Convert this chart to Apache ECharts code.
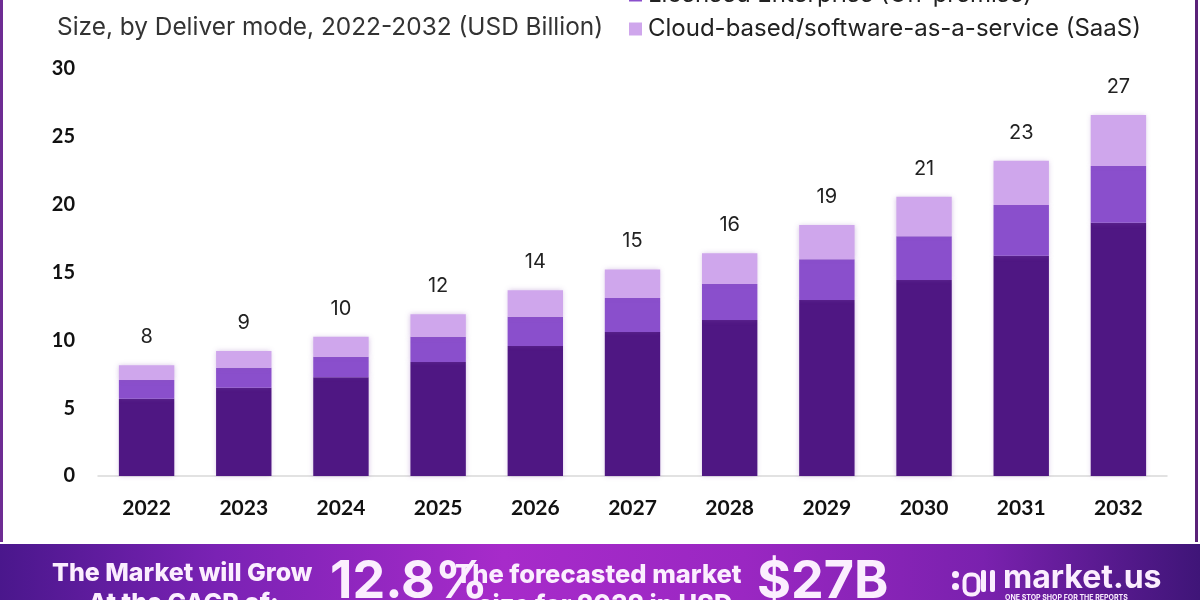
<!DOCTYPE html>
<html>
<head>
<meta charset="utf-8">
<script src="https://cdn.jsdelivr.net/npm/echarts@6/dist/echarts.min.js"></script>
<style>
html,body{margin:0;padding:0;background:#fff;}
#chart{width:1200px;height:600px;}
</style>
</head>
<body>
<div id="chart"></div>
<script>
const years = ['2022','2023','2024','2025','2026','2027','2028','2029','2030','2031','2032'];
const otherModes = [5.70, 6.51, 7.27, 8.40, 9.58, 10.61, 11.50, 12.97, 14.44, 16.23, 18.67];
const licensedEnterprise = [1.38, 1.47, 1.52, 1.86, 2.16, 2.51, 2.65, 3.00, 3.24, 3.74, 4.18];
const cloudSaaS = [1.08, 1.23, 1.47, 1.67, 1.95, 2.11, 2.26, 2.53, 2.90, 3.26, 3.76];
const totalLabels = ['8','9','10','12','14','15','16','19','21','23','27'];
const yTicks = [0, 5, 10, 15, 20, 25, 30];

const seriesNames = ['Perpetual License', 'Licensed Enterprise (On-premise)', 'Cloud-based/software-as-a-service (SaaS)'];
const colors = ['#4f1783', '#8a4fcc', '#cfa6ec'];

const chart = echarts.init(document.getElementById('chart'), null, {renderer: 'canvas'});

const shadow = {shadowBlur: 5, shadowColor: 'rgba(140,90,180,0.35)'};

const option = {
  animation: false,
  backgroundColor: '#ffffff',
  grid: {left: 98, right: 33, top: 69, bottom: 124, containLabel: false},
  legend: {
    orient: 'vertical',
    left: 624,
    top: -22,
    itemGap: 10,
    itemWidth: 13,
    itemHeight: 13,
    icon: 'rect',
    data: [seriesNames[1], seriesNames[2]],
    textStyle: {fontFamily: 'Inter', fontSize: 24, color: '#222', padding: [0, 0, 0, 1]},
    selectedMode: false
  },
  xAxis: {
    type: 'category',
    data: years,
    axisLine: {show: true, lineStyle: {color: '#d9d9d9', width: 1.5}},
    axisTick: {show: false},
    axisLabel: {fontFamily: 'Lato', fontWeight: 'bold', fontSize: 21, color: '#111', margin: 22}
  },
  yAxis: {
    type: 'value',
    min: yTicks[0],
    max: yTicks[yTicks.length - 1],
    interval: 5,
    axisLine: {show: false},
    axisTick: {show: false},
    splitLine: {show: false},
    axisLabel: {fontFamily: 'Lato', fontWeight: 'bold', fontSize: 20, color: '#111', margin: 23}
  },
  series: [
    {
      name: seriesNames[0], type: 'bar', stack: 'total', data: otherModes,
      barWidth: '57%',
      itemStyle: Object.assign({color: colors[0]}, shadow)
    },
    {
      name: seriesNames[1], type: 'bar', stack: 'total', data: licensedEnterprise,
      itemStyle: Object.assign({color: colors[1]}, shadow)
    },
    {
      name: seriesNames[2], type: 'bar', stack: 'total', data: cloudSaaS,
      itemStyle: Object.assign({color: colors[2]}, shadow),
      label: {
        show: true, position: 'top', distance: 18,
        formatter: p => totalLabels[p.dataIndex],
        fontFamily: 'Inter', fontSize: 20, color: '#222'
      }
    }
  ],
  graphic: [
    {type: 'rect', left: 0, top: 0, shape: {width: 3, height: 542}, style: {fill: '#6e2c93'}},
    {type: 'rect', left: 1195, top: 0, shape: {width: 3, height: 542}, style: {fill: '#5a2278'}},
    {
      type: 'text', left: 57, top: 16,
      style: {text: 'Size, by Deliver mode, 2022-2032 (USD Billion)', fontFamily: 'Inter', fontSize: 24.4, fill: '#333'}
    },
    {
      type: 'rect', left: 0, top: 544, z: 10,
      shape: {width: 1200, height: 56},
      style: {
        fill: new echarts.graphic.LinearGradient(0, 0, 1, 0, [
          {offset: 0, color: '#4a178c'},
          {offset: 0.18, color: '#7a22b4'},
          {offset: 0.42, color: '#a72bca'},
          {offset: 0.62, color: '#9a27c2'},
          {offset: 0.82, color: '#7a21ae'},
          {offset: 1, color: '#3f1578'}
        ])
      }
    },
    {type: 'text', left: 52, top: 561, z: 11,
      style: {text: 'The Market will Grow', fontFamily: 'Inter', fontWeight: 800, fontSize: 25, fill: '#fbeefe'}},
    {type: 'text', left: 88, top: 591, z: 11,
      style: {text: 'At the CAGR of:', fontFamily: 'Inter', fontWeight: 800, fontSize: 25, fill: '#fbeefe'}},
    {type: 'text', left: 330, top: 556, z: 11,
      style: {text: '12.8%', fontFamily: 'Inter', fontWeight: 'bold', fontSize: 52, fill: '#fbeefe'}},
    {type: 'text', left: 455, top: 562, z: 12,
      style: {text: 'The forecasted market', fontFamily: 'Inter', fontWeight: 800, fontSize: 25.5, fill: '#fbeefe'}},
    {type: 'text', left: 478, top: 592, z: 12,
      style: {text: 'size for 2032 in USD', fontFamily: 'Inter', fontWeight: 800, fontSize: 25.5, fill: '#fbeefe'}},
    {type: 'text', left: 757, top: 556, z: 11,
      style: {text: '$27B', fontFamily: 'Inter', fontWeight: 'bold', fontSize: 52, fill: '#fbeefe'}},
    {type: 'circle', left: 952, top: 583, z: 11, shape: {r: 3.5}, style: {fill: '#fbeefe'}},
    {type: 'circle', left: 952, top: 571, z: 11, shape: {r: 3.5}, style: {fill: '#fbeefe'}},
    {type: 'rect', left: 962, top: 572, z: 11, shape: {width: 14, height: 20, r: 6}, style: {fill: 'none', stroke: '#fbeefe', lineWidth: 4}},
    {type: 'rect', left: 981, top: 570, z: 11, shape: {width: 5, height: 22, r: 2}, style: {fill: '#fbeefe'}},
    {type: 'rect', left: 990, top: 570, z: 11, shape: {width: 5, height: 22, r: 2}, style: {fill: '#fbeefe'}},
    {type: 'text', left: 1003, top: 562, z: 11,
      style: {text: 'market.us', fontFamily: 'Inter', fontWeight: 'bold', fontSize: 32, fill: '#fbeefe'}},
    {type: 'text', left: 1005, top: 594, z: 11,
      style: {text: 'ONE STOP SHOP FOR THE REPORTS', fontFamily: 'Inter', fontWeight: 'bold', fontSize: 7, fill: '#fbeefe'}}
  ]
};

chart.setOption(option);
</script>
</body>
</html>
